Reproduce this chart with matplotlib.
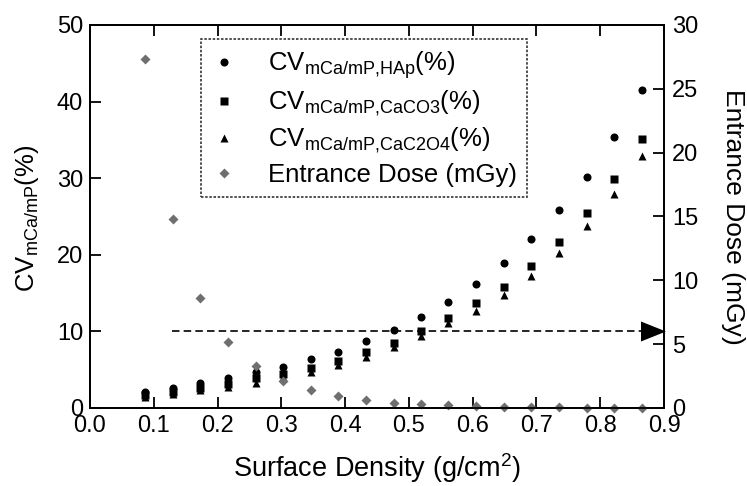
import matplotlib
matplotlib.use("Agg")
import matplotlib.pyplot as plt
from matplotlib.path import Path

plt.rcParams['font.family'] = ['Liberation Sans', 'DejaVu Sans']
plt.rcParams['mathtext.fontset'] = 'custom'
plt.rcParams['mathtext.rm'] = 'Liberation Sans'
plt.rcParams['mathtext.it'] = 'Liberation Sans'
plt.rcParams['mathtext.bf'] = 'Liberation Sans'

# ---- data ----
surface_density = [0.087, 0.130, 0.173, 0.216, 0.260, 0.303, 0.346, 0.389, 0.433, 0.476,
                   0.519, 0.562, 0.606, 0.649, 0.692, 0.735, 0.779, 0.822, 0.865]
cv_hap = [2.1, 2.65, 3.2, 3.9, 4.7, 5.4, 6.4, 7.35, 8.7, 10.2,
          11.9, 13.9, 16.2, 18.9, 22.1, 25.9, 30.2, 35.4, 41.5]
cv_caco3 = [1.7, 2.1, 2.6, 3.1, 3.9, 4.5, 5.2, 6.1, 7.35, 8.5,
            10.0, 11.7, 13.7, 15.8, 18.5, 21.7, 25.5, 29.9, 35.1]
cv_cac2o4 = [1.4, 1.8, 2.3, 2.8, 3.3, 4.1, 4.7, 5.6, 6.7, 7.9,
             9.4, 11.1, 12.6, 14.75, 17.2, 20.2, 23.8, 28.0, 32.9]
entrance_dose = [27.3, 14.8, 8.6, 5.2, 3.3, 2.1, 1.4, 0.95, 0.63, 0.42,
                 0.31, 0.2, 0.12, 0.08, 0.05, 0.04, 0.03, 0.02, 0.02]

threshold_cv = 10
threshold_x = [0.128, 0.87]
arrow_x = 0.882

x_ticks = [0.0, 0.1, 0.2, 0.3, 0.4, 0.5, 0.6, 0.7, 0.8, 0.9]
left_ticks = [0, 10, 20, 30, 40, 50]
right_ticks = [0, 5, 10, 15, 20, 25, 30]

labels = [r'CV$_{\rm mCa/mP{,}HAp}$(%)',
          r'CV$_{\rm mCa/mP{,}CaCO3}$(%)',
          r'CV$_{\rm mCa/mP{,}CaC2O4}$(%)',
          'Entrance Dose (mGy)']

FS = 17
LFS = 18.5
gray = '#6f6f6f'

fig = plt.figure(figsize=(7.47, 4.86), dpi=100)
ax = fig.add_axes([90/747, 1-408/486, 574/747, 383/486])
ax2 = ax.twinx()

ms = 5.8
h1, = ax.plot(surface_density, cv_hap, 'o', color='black', ms=ms, mec='none')
h2, = ax.plot(surface_density, cv_caco3, 's', color='black', ms=ms, mec='none')
h3, = ax.plot(surface_density, cv_cac2o4, '^', color='black', ms=ms, mec='none')
h4, = ax2.plot(surface_density, entrance_dose, 'D', color=gray, ms=4.6, mec='none',
               clip_on=False)

# threshold dashed line + arrow head
ax.plot(threshold_x, [threshold_cv, threshold_cv], color='black', lw=1.2,
        linestyle=(0, (4.5, 2.5)))
arrow_marker = Path([(-1, -0.8), (1, 0), (-1, 0.8), (-1, -0.8)],
                    [Path.MOVETO, Path.LINETO, Path.LINETO, Path.CLOSEPOLY])
ax.plot([arrow_x], [threshold_cv], marker=arrow_marker, ms=18, color='black',
        mec='none', clip_on=False)

ax.set_xlim(0.0, 0.9)
ax.set_ylim(0, 50)
ax2.set_ylim(0, 30)
ax.set_xticks(x_ticks)
ax.set_xticklabels([f'{t:.1f}' for t in x_ticks])
ax.set_yticks(left_ticks)
ax2.set_yticks(right_ticks)

for a in (ax, ax2):
    for s in a.spines.values():
        s.set_linewidth(1.3)
ax.tick_params(axis='both', direction='in', length=8, width=1.3, labelsize=FS,
               top=True, pad=5)
ax2.tick_params(axis='y', direction='in', length=8, width=1.3, labelsize=FS, pad=6)

fig.text(377/747, 1-468/486, r'Surface Density (g/cm$^2$)', ha='center', va='center',
         fontsize=19.5)
fig.text(27/747, 1-218/486, r'CV$_{\rm mCa/mP}$(%)', ha='center', va='center',
         rotation=90, fontsize=18.5)
fig.text(733/747, 1-217/486, 'Entrance Dose (mGy)', ha='center', va='center',
         rotation=270, fontsize=19)

leg = ax2.legend([h1, h2, h3, h4], labels, loc='upper left',
                 bbox_to_anchor=(0.193, 0.963), fontsize=LFS, frameon=True,
                 fancybox=False, borderaxespad=0, handlelength=1.0,
                 handletextpad=1.2, labelspacing=0.3, borderpad=0.4)
frame = leg.get_frame()
frame.set_edgecolor('black')
frame.set_linestyle((0, (1.5, 1)))
frame.set_linewidth(1.2)

fig.savefig('out.png', dpi=100)
